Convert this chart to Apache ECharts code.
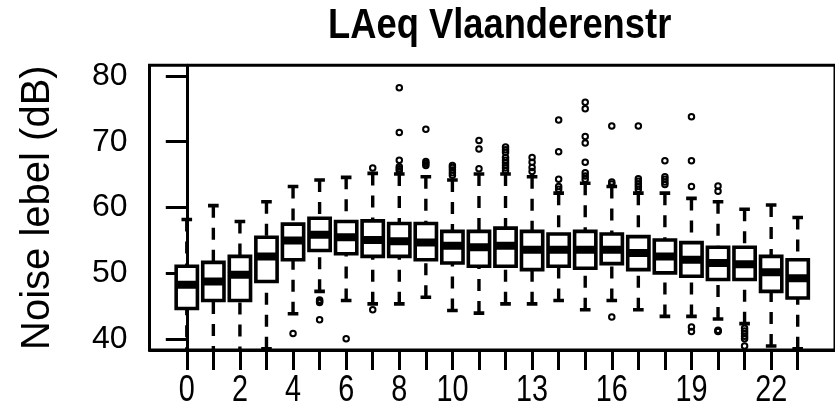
<!DOCTYPE html>
<html>
<head>
<meta charset="utf-8">
<script src="https://cdn.jsdelivr.net/npm/echarts@6/dist/echarts.min.js"></script>
<style>
  html, body { margin: 0; padding: 0; background: #fff; }
  #chart { width: 835px; height: 409px; }
</style>
</head>
<body>
<div id="chart"></div>
<script>
// Hourly LAeq distribution, Vlaanderenstraat
const hours = [0, 1, 2, 3, 4, 5, 6, 7, 8, 9, 10, 11, 12, 13, 14, 15, 16, 17, 18, 19, 20, 21, 22, 23];
const labelledHours = [0, 2, 4, 6, 8, 10, 13, 16, 19, 22];
const yTickValues = [40, 50, 60, 70, 80];

const lowerWhisker = [37.0, 37.2, 37.1, 38.6, 43.9, 47.3, 45.9, 45.4, 45.4, 46.4, 44.4, 44.0,
                      45.4, 45.4, 45.9, 44.5, 45.9, 44.5, 43.5, 43.5, 43.1, 42.4, 39.0, 38.6];
const q1 = [44.7, 45.9, 45.9, 48.8, 52.1, 53.5, 53.0, 52.6, 52.6, 52.1, 51.6, 51.1,
            51.1, 50.6, 51.1, 50.8, 51.5, 50.6, 50.1, 49.6, 49.1, 49.1, 47.3, 46.3];
const median = [48.3, 48.8, 49.8, 52.6, 55.0, 55.9, 55.5, 55.1, 54.9, 54.7, 54.2, 54.0,
                54.2, 53.6, 53.6, 53.6, 53.6, 53.1, 52.6, 52.1, 51.6, 51.4, 50.2, 49.3];
const q3 = [51.1, 51.7, 52.6, 55.5, 57.5, 58.4, 57.9, 58.0, 57.6, 57.6, 56.4, 56.4,
            56.9, 56.4, 56.0, 56.4, 56.0, 55.6, 55.1, 54.7, 54.0, 54.0, 52.6, 52.1];
const upperWhisker = [58.2, 60.3, 57.9, 60.9, 63.2, 64.2, 64.6, 65.2, 65.1, 64.7, 64.2, 65.1,
                      65.1, 64.7, 62.2, 63.7, 63.2, 62.2, 62.2, 61.4, 60.9, 59.75, 60.4, 58.5];
const outliers = [
  [], [], [], [],
  [40.9],
  [45.6, 45.8, 46.0, 43.0],
  [40.1],
  [66.0, 44.5],
  [78.2, 71.4, 67.2, 66.2, 65.9, 65.6],
  [71.9, 67.0, 66.7, 66.4],
  [66.4, 66.1, 65.7, 65.3, 64.9],
  [70.2, 68.9, 65.9],
  [69.2, 68.8, 68.4, 67.6, 67.2, 66.8, 66.4, 66.0, 65.6],
  [67.6, 66.9, 66.1, 65.5],
  [73.3, 68.5, 64.3, 63.2, 62.8],
  [76.0, 75.0, 70.8, 69.8, 66.9, 65.3, 64.8, 64.3],
  [72.4, 63.9, 63.6, 43.4],
  [72.4, 64.4, 64.0, 63.6, 63.2, 62.8],
  [67.1, 64.7, 64.3, 63.9, 63.5],
  [73.8, 67.1, 63.2, 41.9, 41.2],
  [63.3, 62.5, 41.4, 41.3, 41.2],
  [41.7, 41.3, 40.9, 40.5, 40.1, 39.0],
  [], []
];

const boxData = hours.map((h, i) => [h, lowerWhisker[i], q1[i], median[i], q3[i], upperWhisker[i]]);
const outlierData = [];
hours.forEach((h, i) => outliers[i].forEach(v => outlierData.push([h, v])));

const INK = '#000';
const FONT = "'Liberation Sans', Arial, sans-serif";

// Box, median bar, dashed whiskers and staples for one hour
function renderBox(params, api) {
  const x = api.value(0);
  const pLow = api.coord([x, api.value(1)]);
  const pQ1 = api.coord([x, api.value(2)]);
  const pMed = api.coord([x, api.value(3)]);
  const pQ3 = api.coord([x, api.value(4)]);
  const pHigh = api.coord([x, api.value(5)]);
  const halfW = api.size([0.4, 0])[0];
  const cx = pMed[0];
  const whisker = { stroke: INK, lineWidth: 3.4, lineDash: [12, 10] };
  const staple = { stroke: INK, lineWidth: 3.6 };
  return {
    type: 'group',
    children: [
      { type: 'line', shape: { x1: cx, y1: pLow[1], x2: cx, y2: pQ1[1] }, style: whisker },
      { type: 'line', shape: { x1: cx, y1: pHigh[1], x2: cx, y2: pQ3[1] }, style: whisker },
      { type: 'line', shape: { x1: cx - halfW / 2, y1: pLow[1], x2: cx + halfW / 2, y2: pLow[1] }, style: staple },
      { type: 'line', shape: { x1: cx - halfW / 2, y1: pHigh[1], x2: cx + halfW / 2, y2: pHigh[1] }, style: staple },
      { type: 'rect', shape: { x: cx - halfW, y: pQ3[1], width: 2 * halfW, height: pQ1[1] - pQ3[1] },
        style: { fill: '#fff', stroke: INK, lineWidth: 3.6 } },
      { type: 'line', shape: { x1: cx - halfW, y1: pMed[1], x2: cx + halfW, y2: pMed[1] },
        style: { stroke: INK, lineWidth: 8 } }
    ]
  };
}

const chart = echarts.init(document.getElementById('chart'), null, { renderer: 'canvas' });
chart.setOption({
  animation: false,
  backgroundColor: '#fff',
  grid: {
    left: 149.5, top: 65.3, width: 702, height: 284.7,
    show: true, borderColor: INK, borderWidth: 3, backgroundColor: 'transparent'
  },
  xAxis: {
    type: 'value',
    min: -1.404, max: 24.404,
    splitLine: { show: false },
    axisLine: { show: true, lineStyle: { color: INK, width: 3 } },
    axisTick: { show: true, length: 20, lineStyle: { color: INK, width: 3 }, customValues: hours },
    axisLabel: { show: false }
  },
  yAxis: {
    type: 'value',
    min: 38.4, max: 81.6,
    name: 'Noise lebel (dB)',
    nameLocation: 'middle',
    nameGap: 92,
    nameTextStyle: { fontFamily: FONT, fontSize: 40, color: INK },
    splitLine: { show: false },
    axisLine: { show: true, lineStyle: { color: INK, width: 3 } },
    axisTick: { show: true, length: 21, lineStyle: { color: INK, width: 3 }, customValues: yTickValues },
    axisLabel: { customValues: yTickValues, fontFamily: FONT, fontSize: 32, color: INK, margin: 22 }
  },
  series: [
    {
      type: 'custom',
      clip: true,
      renderItem: renderBox,
      encode: { x: 0, y: [1, 2, 3, 4, 5] },
      data: boxData,
      z: 2
    },
    {
      type: 'scatter',
      symbol: 'circle',
      symbolSize: 5.5,
      clip: true,
      itemStyle: { color: 'transparent', borderColor: INK, borderWidth: 2, opacity: 1 },
      data: outlierData,
      z: 3
    }
  ]
});

// Condensed title and hour labels, placed through the x axis scale
const hourLabels = labelledHours.map(h => ({
  type: 'text',
  x: chart.convertToPixel({ xAxisIndex: 0 }, h),
  y: 373,
  scaleX: 0.8,
  style: { text: String(h), fontFamily: FONT, fontSize: 36, fill: INK, align: 'center', verticalAlign: 'top' },
  silent: true
}));
chart.setOption({
  graphic: [
    {
      type: 'text',
      x: 328, y: 5,
      scaleX: 0.845,
      style: { text: 'LAeq Vlaanderenstr', fontFamily: FONT, fontWeight: 'bold', fontSize: 43, fill: INK,
               align: 'left', verticalAlign: 'top' },
      silent: true
    }
  ].concat(hourLabels)
});
</script>
</body>
</html>
